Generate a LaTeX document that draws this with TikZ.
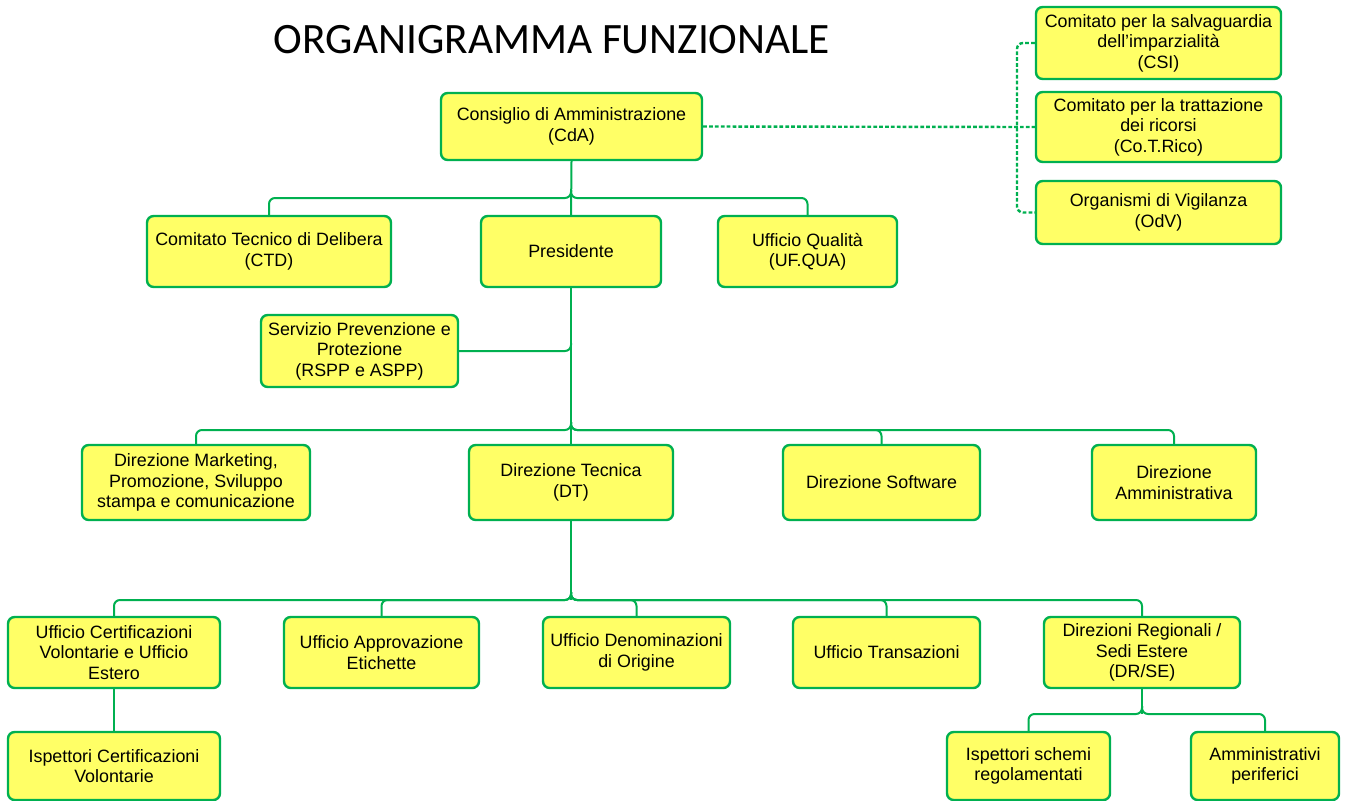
\documentclass[tikz,border=0pt]{standalone}
\usepackage{fontspec}
\setmainfont{Liberation Sans}
\newfontfamily\titlefont{Carlito}
\definecolor{boxfill}{RGB}{255,255,102}
\definecolor{boxline}{RGB}{0,176,80}
\begin{document}
\begin{tikzpicture}[x=0.75pt,y=-0.75pt,
  box/.style n args={2}{draw=boxline,line width=1.8pt,fill=boxfill,rounded corners=5pt,
    align=center,inner sep=1pt,minimum width={#1*0.75pt},minimum height={#2*0.75pt},
    font=\fontsize{13.4}{15.3}\selectfont},
  conn/.style={draw=boxline,line width=1.5pt,rounded corners=4.5pt},
  dconn/.style={draw=boxline,line width=1.8pt,rounded corners=4.5pt,dash pattern=on 2.8pt off 1.6pt}]
\useasboundingbox (0,0) rectangle (1345,800);
\node[font=\titlefont\fontsize{32.5}{34}\selectfont] (title) at (552,40) {ORGANIGRAMMA FUNZIONALE};
% boxes
\node[box={261}{67}] (cda) at (571.5,126.5) {Consiglio di Amministrazione\\(CdA)};
\node[box={245}{72}] (csi) at (1158.5,43) {Comitato per la salvaguardia\\dell’imparzialità\\(CSI)};
\node[box={245}{70}] (cot) at (1158.5,127) {Comitato per la trattazione\\dei ricorsi\\(Co.T.Rico)};
\node[box={245}{63}] (odv) at (1158.5,212.5) {Organismi di Vigilanza\\(OdV)};
\node[box={244}{71}] (ctd) at (269,251.5) {Comitato Tecnico di Delibera\\(CTD)};
\node[box={180}{71}] (pres) at (571,251.5) {Presidente};
\node[box={179}{71}] (ufq) at (807.5,251.5) {Ufficio Qualità\\(UF.QUA)};
\node[box={197}{72}] (rspp) at (359.5,351) {Servizio Prevenzione e\\Protezione\\(RSPP e ASPP)};
\node[box={228}{75}] (dm) at (196,482.5) {Direzione Marketing,\\Promozione, Sviluppo\\stampa e comunicazione};
\node[box={204}{75}] (dt) at (571,482.5) {Direzione Tecnica\\(DT)};
\node[box={197}{75}] (ds) at (881.5,482.5) {Direzione Software};
\node[box={164}{75}] (da) at (1174,482.5) {Direzione\\Amministrativa};
\node[box={212}{71}] (uc) at (114,652.5) {Ufficio Certificazioni\\Volontarie e Ufficio\\Estero};
\node[box={195}{71}] (ua) at (381.5,652.5) {Ufficio Approvazione\\Etichette};
\node[box={187}{71}] (ud) at (636.5,652.5) {Ufficio Denominazioni\\di Origine};
\node[box={187}{71}] (ut) at (886.5,652.5) {Ufficio Transazioni};
\node[box={196}{71}] (dr) at (1142,652.5) {Direzioni Regionali /\\Sedi Estere\\(DR/SE)};
\node[box={212}{68}] (ic) at (114,766) {Ispettori Certificazioni\\Volontarie};
\node[box={163}{68}] (is) at (1028.5,766) {Ispettori schemi\\regolamentati};
\node[box={148}{68}] (ap) at (1265,766) {Amministrativi\\periferici};
% junction coordinates
\coordinate (j1) at (571,198);  \coordinate (j1t) at (571,190);
\coordinate (jr) at (571,351);  \coordinate (jrt) at (571,343);
\coordinate (j2) at (571,430);  \coordinate (j2t) at (571,422);
\coordinate (j3) at (571,600);  \coordinate (j3t) at (571,592);
\coordinate (j4) at (1142,714); \coordinate (j4t) at (1142,706);
\coordinate (dx) at (1017,127);
% connectors level 1
\draw[conn] (cda.south) -- (pres.north);
\draw[conn] (ctd.north) |- (j1) -- (j1t);
\draw[conn] (ufq.north) |- (j1) -- (j1t);
% level 2
\draw[conn] (pres.south) -- (dt.north);
\draw[conn] (rspp.east) -- (jr) -- (jrt);
\draw[conn] (dm.north) |- (j2) -- (j2t);
\draw[conn] (ds.north) |- (j2) -- (j2t);
\draw[conn] (da.north) |- (j2) -- (j2t);
% level 3
\draw[conn] (dt.south) -- (j3);
\draw[conn] (uc.north) |- (j3) -- (j3t);
\draw[conn] (ua.north) |- (j3) -- (j3t);
\draw[conn] (ud.north) |- (j3) -- (j3t);
\draw[conn] (ut.north) |- (j3) -- (j3t);
\draw[conn] (dr.north) |- (j3) -- (j3t);
% level 4
\draw[conn] (uc.south) -- (ic.north);
\draw[conn] (dr.south) -- (j4);
\draw[conn] (is.north) |- (j4) -- (j4t);
\draw[conn] (ap.north) |- (j4) -- (j4t);
% dashed committees
\draw[dconn] (cda.east) -- (cot.west);
\draw[dconn] (csi.west) -| (dx) |- (odv.west);
\end{tikzpicture}
\end{document}
